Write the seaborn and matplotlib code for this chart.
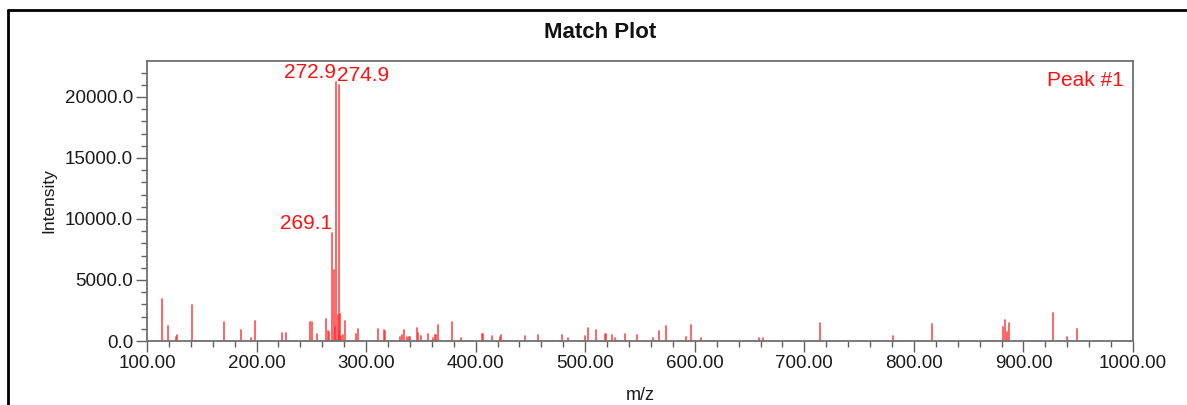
import matplotlib
matplotlib.use("Agg")
import matplotlib.pyplot as plt
from matplotlib.lines import Line2D
from matplotlib.ticker import MultipleLocator, FormatStrFormatter
import seaborn as sns
import pandas as pd

# ---- data ----
mz = [113.4, 118.9, 126.7, 127.1, 140.8, 170.6, 185.5, 195.2, 198.3, 223.2,
      227.1, 248.8, 250.2, 255.3, 263.2, 265.0, 266.3, 269.1, 271.0, 271.9,
      272.9, 273.9, 274.9, 275.6, 276.4, 277.4, 279.2, 280.6, 290.8, 292.3,
      310.8, 316.0, 317.0, 330.9, 332.5, 334.7, 337.6, 338.9, 340.5, 346.2,
      347.7, 350.1, 356.8, 360.8, 362.6, 363.6, 365.9, 378.4, 386.6, 405.6,
      406.5, 414.9, 422.6, 422.9, 445.0, 457.2, 478.5, 484.6, 499.8, 502.2,
      509.5, 518.0, 518.9, 524.5, 527.4, 536.3, 547.5, 561.6, 567.0, 573.4,
      592.0, 596.5, 605.4, 658.9, 662.5, 714.3, 780.6, 816.5, 881.3, 882.8,
      885.2, 886.8, 926.7, 939.5, 948.9]
intensity = [3450, 1230, 300, 500, 2925, 1530, 935, 280, 1670, 630,
             630, 1560, 1560, 600, 1800, 780, 720, 8850, 5830, 1150,
             21200, 2150, 21000, 800, 2180, 450, 465, 1650, 600, 1000,
             1000, 870, 820, 350, 500, 930, 300, 330, 300, 1080,
             655, 380, 545, 270, 490, 480, 1280, 1530, 270, 600,
             600, 435, 300, 520, 380, 520, 520, 270, 435, 1090,
             930, 560, 540, 490, 270, 545, 490, 270, 790, 1230,
             355, 1310, 270, 270, 270, 1450, 410, 1390, 1150, 1750,
             765, 1450, 2265, 355, 1010]
labels = [("269.1", 269.1, 8850, "right"),
          ("272.9", 272.9, 21200, "right"),
          ("274.9", 274.9, 21000, "left")]
title = "Match Plot"
xlabel = "m/z"
ylabel = "Intensity"
peak_name = "Peak #1"

# segments table for seaborn (each peak is a vertical stick)
rows = []
for i, (m, h) in enumerate(zip(mz, intensity)):
    rows.append({"peak": i, "mz": m, "intensity": 0.0})
    rows.append({"peak": i, "mz": m, "intensity": float(h)})
df = pd.DataFrame(rows)

sns.set_theme(style="white")
plt.rcParams["font.family"] = ["Liberation Sans", "DejaVu Sans"]

fig = plt.figure(figsize=(11.87, 4.05), dpi=100)
ax = fig.add_axes([147 / 1187, 1 - 341 / 405, (1133 - 147) / 1187, (341 - 61) / 405])

sns.lineplot(data=df, x="mz", y="intensity", units="peak", estimator=None,
             sort=False, color="#ff3030", linewidth=1.3, alpha=0.8, ax=ax,
             legend=False)

ax.set_xlim(100, 1000)
ax.set_ylim(0, 22950)
ax.xaxis.set_major_locator(MultipleLocator(100))
ax.xaxis.set_minor_locator(MultipleLocator(20))
ax.yaxis.set_major_locator(MultipleLocator(5000))
ax.yaxis.set_minor_locator(MultipleLocator(1000))
ax.xaxis.set_major_formatter(FormatStrFormatter("%.2f"))
ax.yaxis.set_major_formatter(FormatStrFormatter("%.1f"))

for s in ax.spines.values():
    s.set_color("#707070")
    s.set_linewidth(1.3)
ax.tick_params(axis="both", which="major", direction="out", length=8, width=1,
               color="#606060", labelsize=13.5, labelcolor="#1a1a1a",
               bottom=True, left=True, pad=2)
ax.tick_params(axis="both", which="minor", direction="out", length=4, width=1,
               color="#606060", bottom=True, left=True)

ax.set_xlabel(xlabel, fontsize=13, color="#1a1a1a", labelpad=11)
ax.set_ylabel(ylabel, fontsize=12.5, color="#1a1a1a", labelpad=6)

for txt, x, y, ha in labels:
    ax.text(x + (-1.7 if ha == "left" else 0.0), y, txt, ha=ha, va="bottom",
            color="#ff1010", fontsize=15)

ax.text(0.991, 0.965, peak_name, transform=ax.transAxes, ha="right", va="top",
        color="#ff1010", fontsize=15)

fig.text(0.506, 1 - 33 / 405, title, ha="center", va="center",
         fontsize=16, fontweight="bold", color="#111111")

# outer frame (top and left edges visible)
fig.add_artist(Line2D([8 / 1187, 1.0], [1 - 10 / 405, 1 - 10 / 405],
                      transform=fig.transFigure, color="black", linewidth=2))
fig.add_artist(Line2D([8 / 1187, 8 / 1187], [0.0, 1 - 10 / 405],
                      transform=fig.transFigure, color="black", linewidth=2))

fig.savefig("out.png", dpi=100)
